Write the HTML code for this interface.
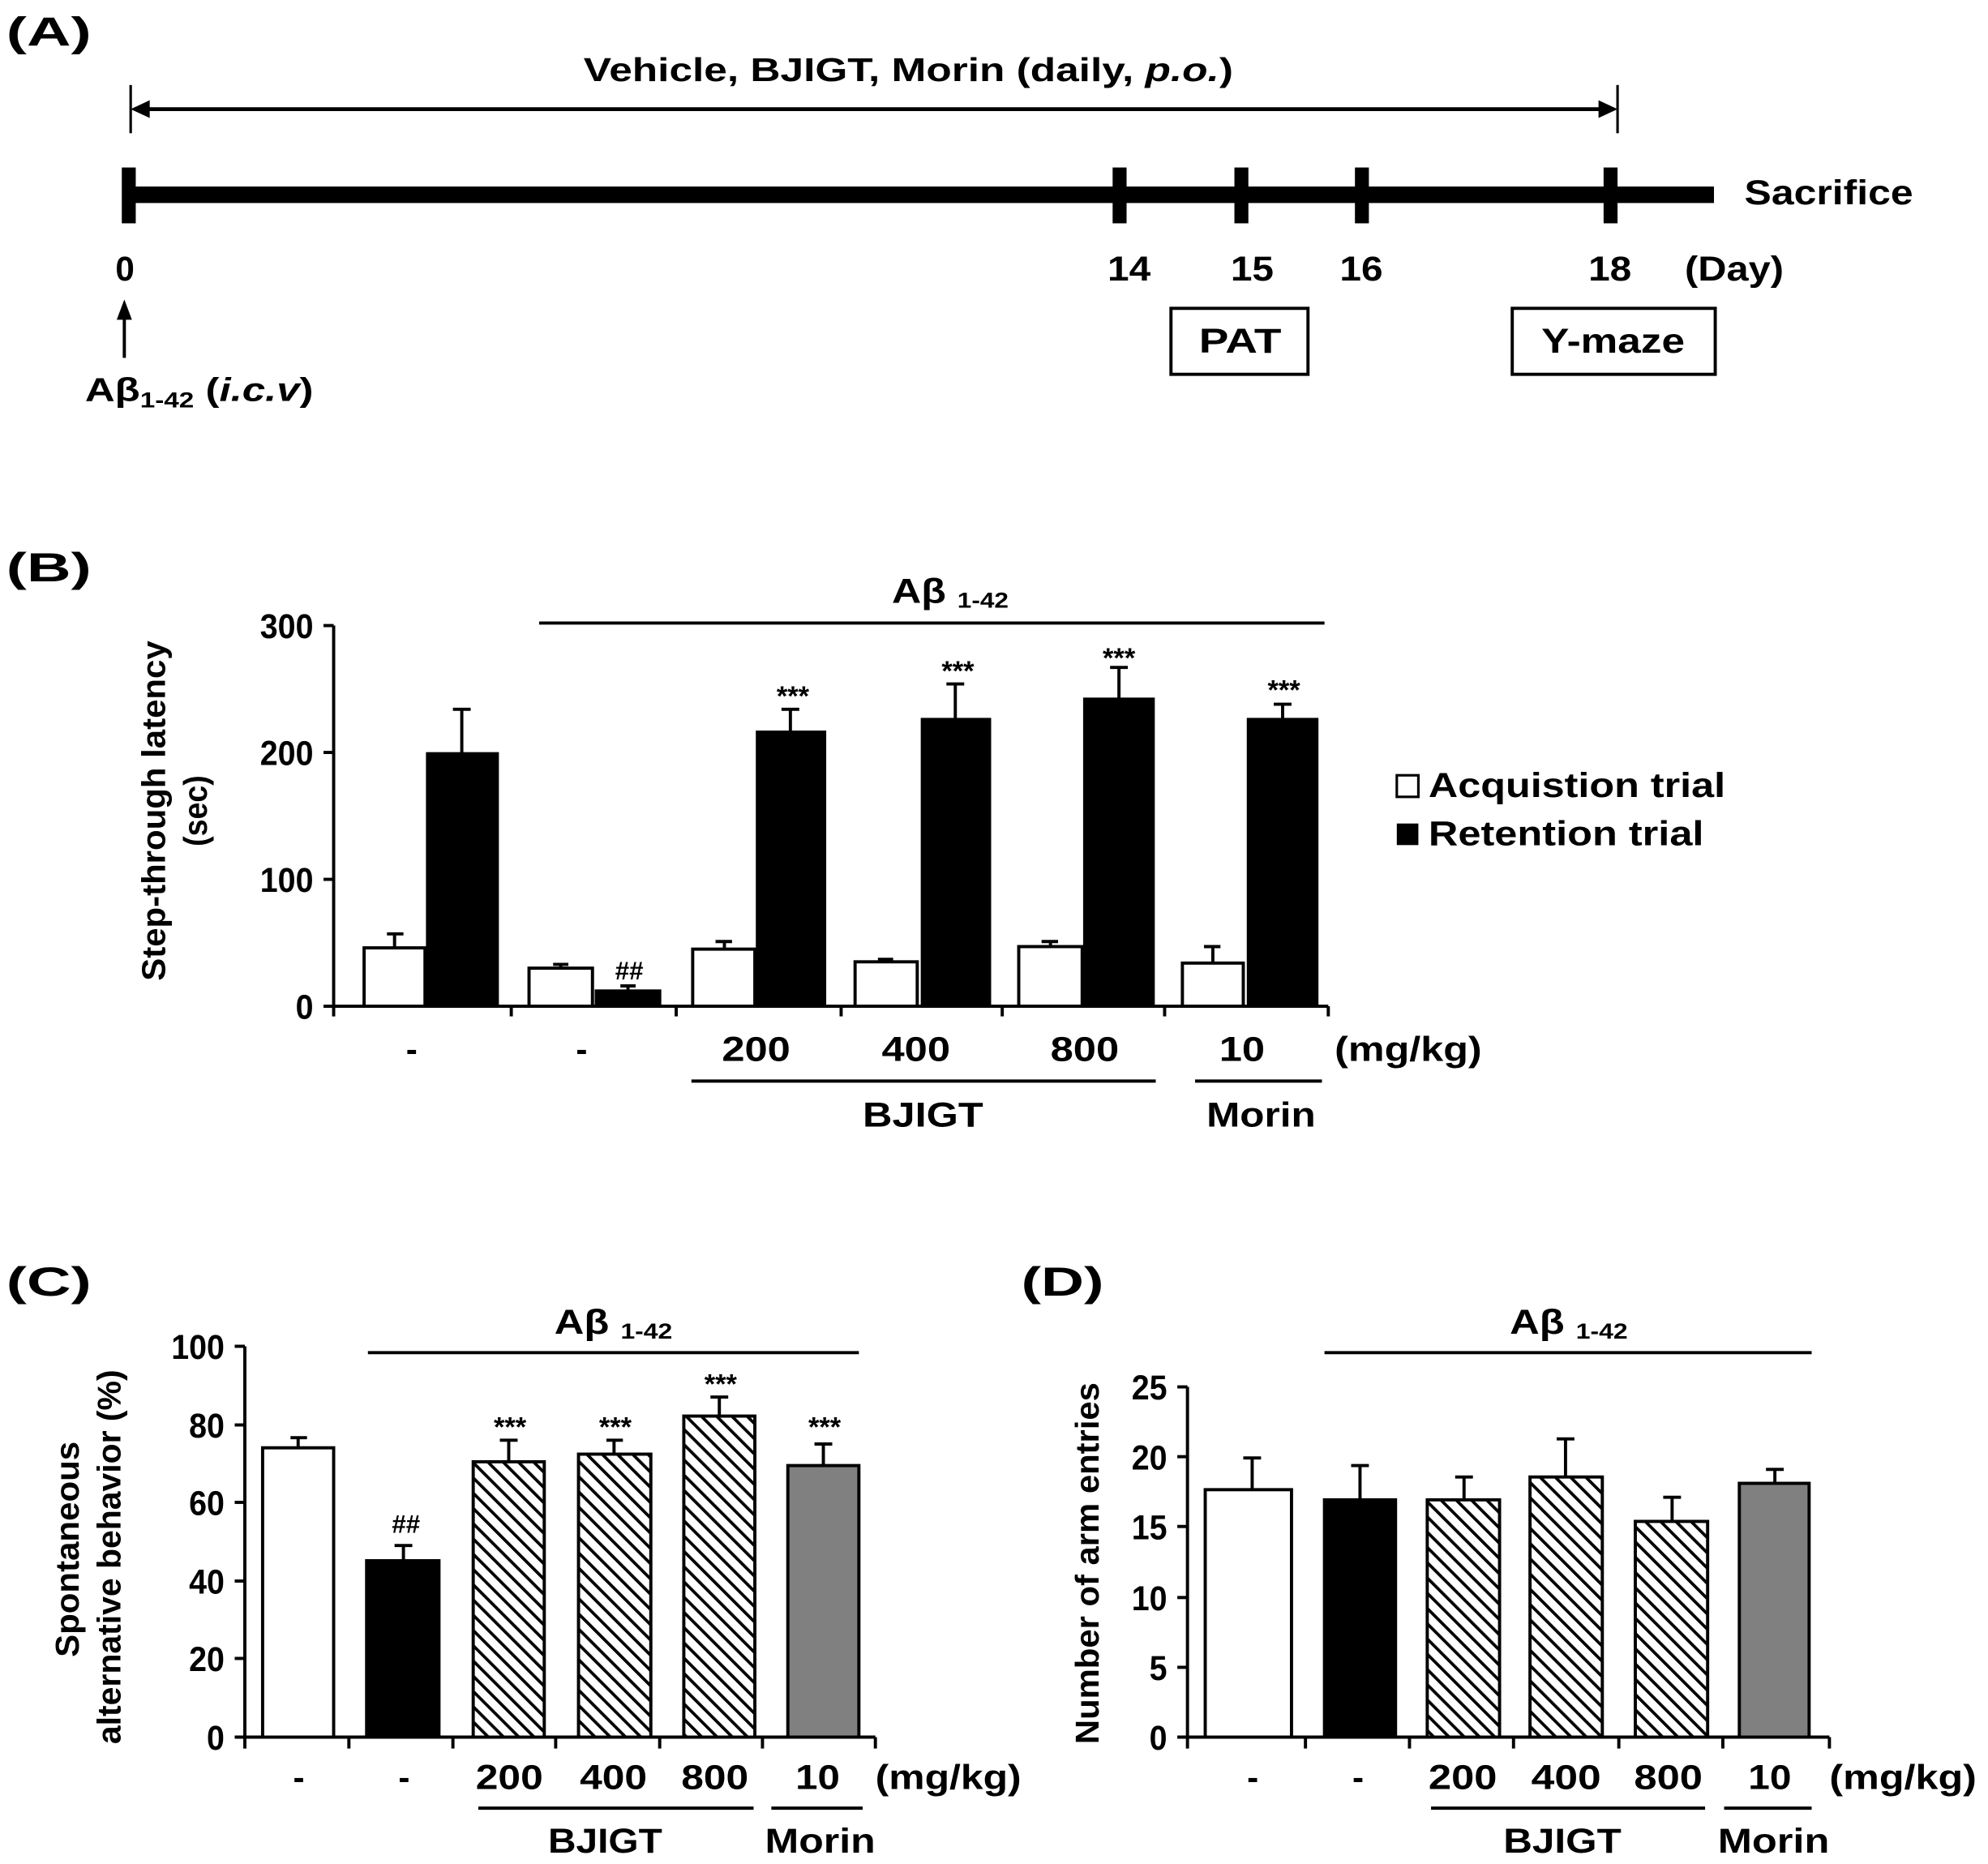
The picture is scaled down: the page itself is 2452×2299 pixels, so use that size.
<!DOCTYPE html>
<html><head><meta charset="utf-8"><style>
html,body{margin:0;padding:0;background:#fff}
svg{display:block}
text{font-family:"Liberation Sans",Arial,sans-serif;font-weight:bold;fill:#000}
</style></head><body>
<svg width="2452" height="2299" viewBox="0 0 1567 1469" preserveAspectRatio="none" xmlns="http://www.w3.org/2000/svg">
<defs>
<pattern id="h" patternUnits="userSpaceOnUse" width="8.5" height="8.5" patternTransform="rotate(-45)">
<rect width="8.5" height="8.5" fill="#fff"/><line x1="0" y1="0" x2="0" y2="8.5" stroke="#000" stroke-width="4.8"/>
</pattern>
</defs>
<g lengthAdjust="spacingAndGlyphs">
<!-- Panel A -->
<text x="5" y="36" font-size="32" textLength="67" lengthAdjust="spacingAndGlyphs">(A)</text>
<text x="460" y="64" font-size="26" textLength="512" lengthAdjust="spacingAndGlyphs">Vehicle, BJIGT, Morin (daily, <tspan font-style="italic">p.o.</tspan>)</text>
<line x1="103" y1="67" x2="103" y2="105" stroke="#000" stroke-width="2"/>
<line x1="1275" y1="67" x2="1275" y2="105" stroke="#000" stroke-width="2"/>
<line x1="106" y1="86" x2="1272" y2="86" stroke="#000" stroke-width="3"/>
<polygon points="103,86 118,79 118,93" fill="#000"/>
<polygon points="1275,86 1260,79 1260,93" fill="#000"/>
<rect x="98" y="147" width="1253" height="13" fill="#000"/>
<rect x="96" y="132" width="11" height="44" fill="#000"/>
<rect x="877" y="132" width="11" height="44" fill="#000"/>
<rect x="973" y="132" width="11" height="44" fill="#000"/>
<rect x="1068" y="132" width="11" height="44" fill="#000"/>
<rect x="1264" y="132" width="11" height="44" fill="#000"/>
<text x="1375" y="161" font-size="27" textLength="133" lengthAdjust="spacingAndGlyphs">Sacrifice</text>
<g font-size="27">
<text x="91" y="221" textLength="15" lengthAdjust="spacingAndGlyphs">0</text>
<text x="873" y="221" textLength="34" lengthAdjust="spacingAndGlyphs">14</text>
<text x="970" y="221" textLength="34" lengthAdjust="spacingAndGlyphs">15</text>
<text x="1056" y="221" textLength="34" lengthAdjust="spacingAndGlyphs">16</text>
<text x="1252" y="221" textLength="34" lengthAdjust="spacingAndGlyphs">18</text>
<text x="1328" y="221" textLength="78" lengthAdjust="spacingAndGlyphs">(Day)</text>
</g>
<line x1="98" y1="250" x2="98" y2="282" stroke="#000" stroke-width="2.5"/>
<polygon points="98,236 92,252 104,252" fill="#000"/>
<text x="67" y="316" font-size="26" textLength="180" lengthAdjust="spacingAndGlyphs">Aβ<tspan font-size="17" dy="5">1-42</tspan><tspan dy="-5"> (</tspan><tspan font-style="italic">i.c.v</tspan>)</text>
<rect x="923" y="243" width="108" height="52" fill="#fff" stroke="#000" stroke-width="2.5"/>
<text x="945" y="278" font-size="27" textLength="65" lengthAdjust="spacingAndGlyphs">PAT</text>
<rect x="1192" y="243" width="160" height="52" fill="#fff" stroke="#000" stroke-width="2.5"/>
<text x="1215" y="278" font-size="27" textLength="113" lengthAdjust="spacingAndGlyphs">Y-maze</text>

<!-- Panel B -->
<text x="5" y="458" font-size="32" textLength="67" lengthAdjust="spacingAndGlyphs">(B)</text>
<text x="703" y="475" font-size="27" textLength="92" lengthAdjust="spacingAndGlyphs">Aβ <tspan font-size="17" dy="4">1-42</tspan></text>
<line x1="425" y1="491" x2="1044" y2="491" stroke="#000" stroke-width="2.5"/>
<g stroke="#000" stroke-width="2.5">
<line x1="263" y1="493" x2="263" y2="801"/>
<line x1="255" y1="493" x2="263" y2="493"/><line x1="255" y1="593" x2="263" y2="593"/><line x1="255" y1="693" x2="263" y2="693"/><line x1="255" y1="793" x2="1047" y2="793"/>
<line x1="403" y1="793" x2="403" y2="801"/><line x1="533" y1="793" x2="533" y2="801"/><line x1="663" y1="793" x2="663" y2="801"/><line x1="790" y1="793" x2="790" y2="801"/><line x1="918" y1="793" x2="918" y2="801"/><line x1="1047" y1="793" x2="1047" y2="801"/>
</g>
<g font-size="27">
<text x="205" y="503" textLength="42" lengthAdjust="spacingAndGlyphs">300</text>
<text x="205" y="603" textLength="42" lengthAdjust="spacingAndGlyphs">200</text>
<text x="205" y="703" textLength="42" lengthAdjust="spacingAndGlyphs">100</text>
<text x="233" y="803" textLength="14" lengthAdjust="spacingAndGlyphs">0</text>
</g>
<text transform="translate(130,639) rotate(-90)" font-size="26" text-anchor="middle" textLength="268" lengthAdjust="spacingAndGlyphs">Step-through latency</text>
<text transform="translate(163,639) rotate(-90)" font-size="26" text-anchor="middle" textLength="56" lengthAdjust="spacingAndGlyphs">(sec)</text>
<g stroke="#000" stroke-width="2.5">
<line x1="311" y1="747" x2="311" y2="736"/><line x1="305" y1="736" x2="318" y2="736"/>
<line x1="571" y1="748" x2="571" y2="742"/><line x1="564" y1="742" x2="577" y2="742"/>
<line x1="828" y1="746" x2="828" y2="742"/><line x1="821" y1="742" x2="834" y2="742"/>
<line x1="956" y1="759" x2="956" y2="746"/><line x1="949" y1="746" x2="962" y2="746"/>
<line x1="364" y1="594" x2="364" y2="559"/><line x1="357" y1="559" x2="371" y2="559"/>
<line x1="623" y1="577" x2="623" y2="559"/><line x1="616" y1="559" x2="630" y2="559"/>
<line x1="753" y1="567" x2="753" y2="539"/><line x1="746" y1="539" x2="760" y2="539"/>
<line x1="882" y1="551" x2="882" y2="526"/><line x1="875" y1="526" x2="889" y2="526"/>
<line x1="1011" y1="567" x2="1011" y2="555"/><line x1="1004" y1="555" x2="1018" y2="555"/>
<line x1="495" y1="781" x2="495" y2="777"/><line x1="489" y1="777" x2="501" y2="777"/>
<line x1="442" y1="763" x2="442" y2="760"/><line x1="436" y1="760" x2="448" y2="760"/>
<line x1="698" y1="758" x2="698" y2="756"/><line x1="692" y1="756" x2="704" y2="756"/>
<rect x="287" y="747" width="48" height="46" fill="#fff"/>
<rect x="417" y="763" width="50" height="30" fill="#fff"/>
<rect x="546" y="748" width="49" height="45" fill="#fff"/>
<rect x="674" y="758" width="49" height="35" fill="#fff"/>
<rect x="803" y="746" width="50" height="47" fill="#fff"/>
<rect x="932" y="759" width="48" height="34" fill="#fff"/>
<rect x="337" y="594" width="55" height="199" fill="#000"/>
<rect x="470" y="781" width="50" height="12" fill="#000"/>
<rect x="597" y="577" width="53" height="216" fill="#000"/>
<rect x="727" y="567" width="53" height="226" fill="#000"/>
<rect x="855" y="551" width="54" height="242" fill="#000"/>
<rect x="984" y="567" width="54" height="226" fill="#000"/>
</g>
<g font-size="22" text-anchor="middle">
<text x="625" y="556">***</text><text x="755" y="536">***</text><text x="882" y="526">***</text><text x="1012" y="551">***</text>
<text x="496" y="772" font-size="20">##</text>
</g>
<g font-size="27">
<text x="320" y="836" textLength="9" lengthAdjust="spacingAndGlyphs">-</text>
<text x="454" y="836" textLength="9" lengthAdjust="spacingAndGlyphs">-</text>
<text x="569" y="836" textLength="54" lengthAdjust="spacingAndGlyphs">200</text>
<text x="695" y="836" textLength="54" lengthAdjust="spacingAndGlyphs">400</text>
<text x="828" y="836" textLength="54" lengthAdjust="spacingAndGlyphs">800</text>
<text x="961" y="836" textLength="36" lengthAdjust="spacingAndGlyphs">10</text>
<text x="1052" y="836" textLength="116" lengthAdjust="spacingAndGlyphs">(mg/kg)</text>
<text x="680" y="888" textLength="95" lengthAdjust="spacingAndGlyphs">BJIGT</text>
<text x="951" y="888" textLength="86" lengthAdjust="spacingAndGlyphs">Morin</text>
</g>
<line x1="545" y1="852" x2="911" y2="852" stroke="#000" stroke-width="2.5"/>
<line x1="942" y1="852" x2="1042" y2="852" stroke="#000" stroke-width="2.5"/>
<rect x="1101" y="611" width="17" height="17" fill="#fff" stroke="#000" stroke-width="2"/>
<text x="1126" y="628" font-size="27" textLength="234" lengthAdjust="spacingAndGlyphs">Acquistion trial</text>
<rect x="1101" y="649" width="17" height="17" fill="#000"/>
<text x="1126" y="666" font-size="27" textLength="217" lengthAdjust="spacingAndGlyphs">Retention trial</text>

<!-- Panel C -->
<text x="5" y="1021" font-size="32" textLength="67" lengthAdjust="spacingAndGlyphs">(C)</text>
<text x="437" y="1051" font-size="27" textLength="93" lengthAdjust="spacingAndGlyphs">Aβ <tspan font-size="17" dy="4">1-42</tspan></text>
<line x1="290" y1="1066" x2="677" y2="1066" stroke="#000" stroke-width="2.5"/>
<g stroke="#000" stroke-width="2.5">
<line x1="193" y1="1061" x2="193" y2="1378"/>
<line x1="185" y1="1061" x2="193" y2="1061"/><line x1="185" y1="1123" x2="193" y2="1123"/><line x1="185" y1="1184" x2="193" y2="1184"/><line x1="185" y1="1246" x2="193" y2="1246"/><line x1="185" y1="1307" x2="193" y2="1307"/><line x1="185" y1="1369" x2="690" y2="1369"/>
<line x1="275" y1="1369" x2="275" y2="1378"/><line x1="357" y1="1369" x2="357" y2="1378"/><line x1="438" y1="1369" x2="438" y2="1378"/><line x1="520" y1="1369" x2="520" y2="1378"/><line x1="601" y1="1369" x2="601" y2="1378"/><line x1="690" y1="1369" x2="690" y2="1378"/>
<line x1="235" y1="1141" x2="235" y2="1133"/><line x1="229" y1="1133" x2="242" y2="1133"/>
<line x1="318" y1="1230" x2="318" y2="1218"/><line x1="311" y1="1218" x2="325" y2="1218"/>
<line x1="401" y1="1152" x2="401" y2="1135"/><line x1="394" y1="1135" x2="408" y2="1135"/>
<line x1="484" y1="1146" x2="484" y2="1135"/><line x1="478" y1="1135" x2="491" y2="1135"/>
<line x1="567" y1="1116" x2="567" y2="1101"/><line x1="560" y1="1101" x2="574" y2="1101"/>
<line x1="649" y1="1155" x2="649" y2="1138"/><line x1="642" y1="1138" x2="656" y2="1138"/>
<rect x="207" y="1141" width="56" height="228" fill="#fff"/>
<rect x="289" y="1230" width="57" height="139" fill="#000"/>
<rect x="373" y="1152" width="56" height="217" fill="url(#h)"/>
<rect x="456" y="1146" width="57" height="223" fill="url(#h)"/>
<rect x="539" y="1116" width="56" height="253" fill="url(#h)"/>
<rect x="621" y="1155" width="56" height="214" fill="#808080"/>
</g>
<g font-size="27">
<text x="135" y="1071" textLength="42" lengthAdjust="spacingAndGlyphs">100</text>
<text x="149" y="1133" textLength="28" lengthAdjust="spacingAndGlyphs">80</text>
<text x="149" y="1194" textLength="28" lengthAdjust="spacingAndGlyphs">60</text>
<text x="149" y="1256" textLength="28" lengthAdjust="spacingAndGlyphs">40</text>
<text x="149" y="1317" textLength="28" lengthAdjust="spacingAndGlyphs">20</text>
<text x="163" y="1379" textLength="14" lengthAdjust="spacingAndGlyphs">0</text>
</g>
<text transform="translate(62,1221) rotate(-90)" font-size="26" text-anchor="middle" textLength="170" lengthAdjust="spacingAndGlyphs">Spontaneous</text>
<text transform="translate(95,1227) rotate(-90)" font-size="26" text-anchor="middle" textLength="295" lengthAdjust="spacingAndGlyphs">alternative behavior (%)</text>
<g font-size="22" text-anchor="middle">
<text x="402" y="1132">***</text><text x="485" y="1132">***</text><text x="568" y="1098">***</text><text x="650" y="1132">***</text>
<text x="320" y="1208" font-size="20">##</text>
</g>
<g font-size="27">
<text x="231" y="1410" textLength="9" lengthAdjust="spacingAndGlyphs">-</text>
<text x="314" y="1410" textLength="9" lengthAdjust="spacingAndGlyphs">-</text>
<text x="375" y="1410" textLength="53" lengthAdjust="spacingAndGlyphs">200</text>
<text x="457" y="1410" textLength="53" lengthAdjust="spacingAndGlyphs">400</text>
<text x="537" y="1410" textLength="53" lengthAdjust="spacingAndGlyphs">800</text>
<text x="627" y="1410" textLength="35" lengthAdjust="spacingAndGlyphs">10</text>
<text x="690" y="1410" textLength="115" lengthAdjust="spacingAndGlyphs">(mg/kg)</text>
<text x="432" y="1460" textLength="90" lengthAdjust="spacingAndGlyphs">BJIGT</text>
<text x="603" y="1460" textLength="87" lengthAdjust="spacingAndGlyphs">Morin</text>
</g>
<line x1="377" y1="1425" x2="594" y2="1425" stroke="#000" stroke-width="2.5"/>
<line x1="608" y1="1425" x2="680" y2="1425" stroke="#000" stroke-width="2.5"/>

<!-- Panel D -->
<text x="805" y="1021" font-size="32" textLength="65" lengthAdjust="spacingAndGlyphs">(D)</text>
<text x="1190" y="1051" font-size="27" textLength="93" lengthAdjust="spacingAndGlyphs">Aβ <tspan font-size="17" dy="4">1-42</tspan></text>
<line x1="1044" y1="1066" x2="1428" y2="1066" stroke="#000" stroke-width="2.5"/>
<g stroke="#000" stroke-width="2.5">
<line x1="936" y1="1093" x2="936" y2="1378"/>
<line x1="928" y1="1093" x2="936" y2="1093"/><line x1="928" y1="1148" x2="936" y2="1148"/><line x1="928" y1="1203" x2="936" y2="1203"/><line x1="928" y1="1259" x2="936" y2="1259"/><line x1="928" y1="1314" x2="936" y2="1314"/><line x1="928" y1="1369" x2="1442" y2="1369"/>
<line x1="1029" y1="1369" x2="1029" y2="1378"/><line x1="1111" y1="1369" x2="1111" y2="1378"/><line x1="1193" y1="1369" x2="1193" y2="1378"/><line x1="1276" y1="1369" x2="1276" y2="1378"/><line x1="1358" y1="1369" x2="1358" y2="1378"/><line x1="1442" y1="1369" x2="1442" y2="1378"/>
<line x1="987" y1="1174" x2="987" y2="1149"/><line x1="980" y1="1149" x2="994" y2="1149"/>
<line x1="1072" y1="1182" x2="1072" y2="1155"/><line x1="1065" y1="1155" x2="1079" y2="1155"/>
<line x1="1154" y1="1182" x2="1154" y2="1164"/><line x1="1147" y1="1164" x2="1161" y2="1164"/>
<line x1="1234" y1="1164" x2="1234" y2="1134"/><line x1="1227" y1="1134" x2="1241" y2="1134"/>
<line x1="1318" y1="1199" x2="1318" y2="1180"/><line x1="1311" y1="1180" x2="1325" y2="1180"/>
<line x1="1399" y1="1169" x2="1399" y2="1158"/><line x1="1392" y1="1158" x2="1406" y2="1158"/>
<rect x="950" y="1174" width="68" height="195" fill="#fff"/>
<rect x="1044" y="1182" width="56" height="187" fill="#000"/>
<rect x="1125" y="1182" width="57" height="187" fill="url(#h)"/>
<rect x="1206" y="1164" width="57" height="205" fill="url(#h)"/>
<rect x="1289" y="1199" width="57" height="170" fill="url(#h)"/>
<rect x="1371" y="1169" width="55" height="200" fill="#808080"/>
</g>
<g font-size="27">
<text x="892" y="1103" textLength="28" lengthAdjust="spacingAndGlyphs">25</text>
<text x="892" y="1158" textLength="28" lengthAdjust="spacingAndGlyphs">20</text>
<text x="892" y="1213" textLength="28" lengthAdjust="spacingAndGlyphs">15</text>
<text x="892" y="1269" textLength="28" lengthAdjust="spacingAndGlyphs">10</text>
<text x="906" y="1324" textLength="14" lengthAdjust="spacingAndGlyphs">5</text>
<text x="906" y="1379" textLength="14" lengthAdjust="spacingAndGlyphs">0</text>
</g>
<text transform="translate(866,1232) rotate(-90)" font-size="26" text-anchor="middle" textLength="285" lengthAdjust="spacingAndGlyphs">Number of arm entries</text>
<g font-size="27">
<text x="983" y="1410" textLength="9" lengthAdjust="spacingAndGlyphs">-</text>
<text x="1066" y="1410" textLength="9" lengthAdjust="spacingAndGlyphs">-</text>
<text x="1126" y="1410" textLength="54" lengthAdjust="spacingAndGlyphs">200</text>
<text x="1207" y="1410" textLength="55" lengthAdjust="spacingAndGlyphs">400</text>
<text x="1288" y="1410" textLength="54" lengthAdjust="spacingAndGlyphs">800</text>
<text x="1378" y="1410" textLength="34" lengthAdjust="spacingAndGlyphs">10</text>
<text x="1442" y="1410" textLength="116" lengthAdjust="spacingAndGlyphs">(mg/kg)</text>
<text x="1185" y="1460" textLength="93" lengthAdjust="spacingAndGlyphs">BJIGT</text>
<text x="1354" y="1460" textLength="88" lengthAdjust="spacingAndGlyphs">Morin</text>
</g>
<line x1="1128" y1="1425" x2="1344" y2="1425" stroke="#000" stroke-width="2.5"/>
<line x1="1359" y1="1425" x2="1428" y2="1425" stroke="#000" stroke-width="2.5"/>
</g>
</svg>
</body></html>
